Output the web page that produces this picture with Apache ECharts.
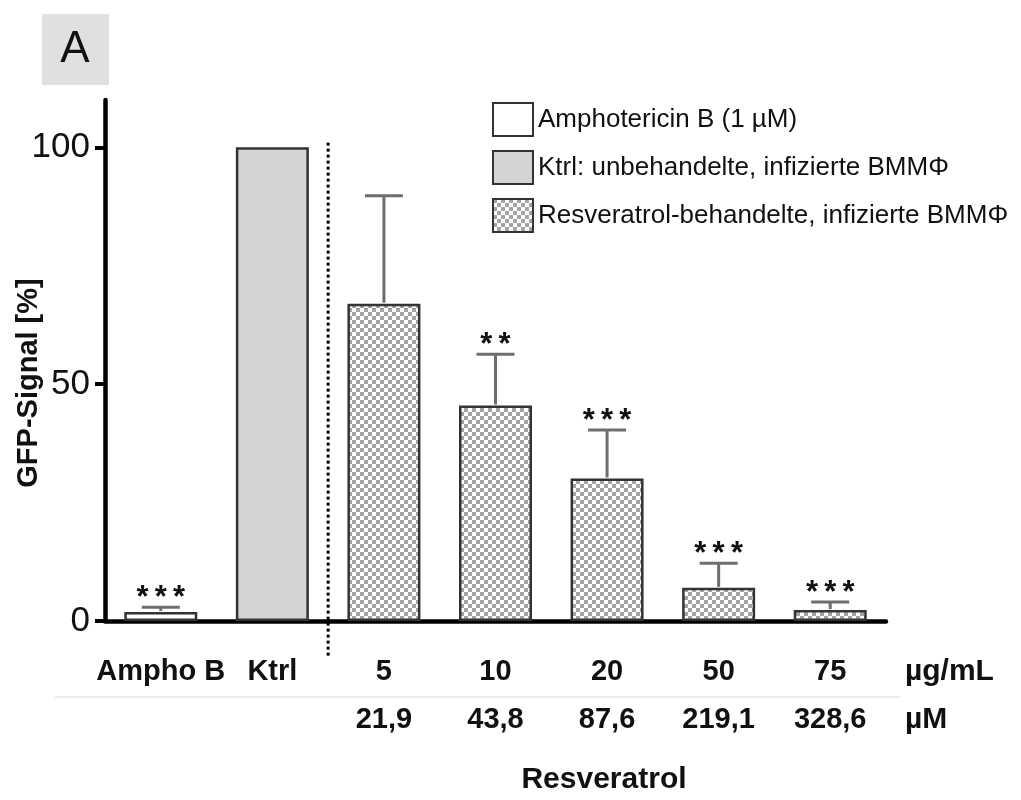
<!DOCTYPE html>
<html>
<head>
<meta charset="utf-8">
<script src="https://cdn.jsdelivr.net/npm/echarts@6/dist/echarts.min.js"></script>
<style>
  html, body { margin: 0; padding: 0; background: #fff; }
  #chart { width: 1021px; height: 800px; }
</style>
</head>
<body>
<div id="chart"></div>
<script>
// Daten
var categories = ['Ampho B', 'Ktrl', '5', '10', '20', '50', '75'];
var concMicroMolar = ['', '', '21,9', '43,8', '87,6', '219,1', '328,6'];
var groups = ['ampho', 'ktrl', 'resv', 'resv', 'resv', 'resv', 'resv'];
var meanValues = [1.9, 100, 67.0, 45.5, 30.1, 7.0, 2.3];
var errValues = [1.0, 0, 22.8, 10.8, 10.2, 5.2, 1.7];
var sigLabels = ['***', '', '', '**', '***', '***', '***'];
var yTicks = [0, 50, 100];

var FONT = 'Liberation Sans, Arial, sans-serif';

function onlyGroup(g) {
  return meanValues.map(function (v, i) { return groups[i] === g ? v : '-'; });
}

// Schachbrettmuster fuer Resveratrol
var patternCanvas = document.createElement('canvas');
patternCanvas.width = 8;
patternCanvas.height = 8;
var pctx = patternCanvas.getContext('2d');
pctx.fillStyle = '#ffffff';
pctx.fillRect(0, 0, 8, 8);
pctx.fillStyle = '#a4a4a4';
pctx.fillRect(0, 0, 4, 4);
pctx.fillRect(4, 4, 4, 4);

var myChart = echarts.init(document.getElementById('chart'));

var barBorder = { borderColor: '#333', borderWidth: 2.5 };

var option = {
  animation: false,
  backgroundColor: '#fff',
  grid: { left: 105, right: 135, top: 100, bottom: 179, outerBoundsMode: 'none' },
  legend: {
    orient: 'vertical',
    left: 487,
    top: 97,
    itemWidth: 40,
    itemHeight: 33,
    itemGap: 13,
    icon: 'rect',
    itemStyle: { borderColor: '#333', borderWidth: 2 },
    textStyle: { fontSize: 26, color: '#111', fontFamily: FONT },
    data: ['Amphotericin B (1 µM)', 'Ktrl: unbehandelte, infizierte BMMΦ', 'Resveratrol-behandelte, infizierte BMMΦ']
  },
  xAxis: [
    {
      type: 'category',
      data: categories,
      axisLine: { lineStyle: { color: '#000', width: 4.5 } },
      axisTick: { alignWithLabel: true, interval: 0, length: 10, lineStyle: { color: '#000', width: 4 } },
      axisLabel: { interval: 0, fontSize: 29, fontWeight: 'bold', color: '#111', margin: 36, fontFamily: FONT }
    },
    {
      type: 'category',
      data: categories,
      position: 'bottom',
      axisLine: { show: false },
      axisTick: { show: false },
      axisLabel: {
        interval: 0, fontSize: 29, fontWeight: 'bold', color: '#111', margin: 84, fontFamily: FONT,
        formatter: function (v, i) { return concMicroMolar[i]; }
      }
    }
  ],
  yAxis: {
    type: 'value',
    min: 0,
    max: 110,
    name: 'GFP-Signal [%]',
    nameLocation: 'middle',
    nameGap: 62,
    nameMoveOverlap: false,
    nameTextStyle: { fontSize: 29, fontWeight: 'bold', color: '#111', fontFamily: FONT, padding: [0, 45, 0, 0] },
    splitLine: { show: false },
    axisLine: { show: true, lineStyle: { color: '#000', width: 4.5 } },
    axisTick: { show: true, length: 10, customValues: yTicks, lineStyle: { color: '#000', width: 4 } },
    axisLabel: { fontSize: 35, color: '#111', margin: 15, fontFamily: FONT, customValues: yTicks }
  },
  series: [
    {
      name: 'Amphotericin B (1 µM)',
      type: 'bar',
      barWidth: 73,
      barGap: '-100%',
      itemStyle: Object.assign({ color: '#ffffff' }, barBorder),
      data: onlyGroup('ampho')
    },
    {
      name: 'Ktrl: unbehandelte, infizierte BMMΦ',
      type: 'bar',
      barWidth: 73,
      barGap: '-100%',
      itemStyle: Object.assign({ color: '#d4d4d4' }, barBorder),
      data: onlyGroup('ktrl')
    },
    {
      name: 'Resveratrol-behandelte, infizierte BMMΦ',
      type: 'bar',
      barWidth: 73,
      barGap: '-100%',
      itemStyle: Object.assign({ color: { image: patternCanvas, repeat: 'repeat' } }, barBorder),
      data: onlyGroup('resv')
    },
    {
      // Fehlerbalken + Signifikanzsterne
      type: 'custom',
      z: 5,
      data: meanValues.map(function (v, i) { return [i, v, errValues[i]]; }),
      renderItem: function (params, api) {
        var idx = api.value(0);
        var mean = api.value(1);
        var err = api.value(2);
        var base = api.coord([idx, mean]);
        var top = api.coord([idx, mean + err]);
        var half = 19;
        var stroke = { stroke: '#6e6e6e', lineWidth: 3 };
        var children = [];
        if (err > 0) {
          children.push({ type: 'line', shape: { x1: base[0], y1: base[1] - 1, x2: top[0], y2: top[1] }, style: stroke });
          children.push({ type: 'line', shape: { x1: top[0] - half, y1: top[1], x2: top[0] + half, y2: top[1] }, style: stroke });
        }
        var sig = sigLabels[params.dataIndex];
        if (sig) {
          children.push({
            type: 'text',
            x: top[0],
            y: top[1] - 9,
            style: {
              text: sig.split('').join('\u2009'),
              fill: '#111',
              font: 'bold 31px ' + FONT,
              textAlign: 'center',
              textVerticalAlign: 'middle'
            }
          });
        }
        return { type: 'group', children: children };
      }
    }
  ]
};

myChart.setOption(option);

// Trennlinie zwischen Kontrollen und Resveratrol, Beschriftungen
var xa = myChart.convertToPixel({ xAxisIndex: 0 }, 1);
var xb = myChart.convertToPixel({ xAxisIndex: 0 }, 2);
var sepX = (xa + xb) / 2;
var yTop = myChart.convertToPixel({ yAxisIndex: 0 }, 101);
var yZero = myChart.convertToPixel({ yAxisIndex: 0 }, 0);

myChart.setOption({
  graphic: [
    { type: 'rect', left: 42, top: 14, shape: { width: 67, height: 71 }, style: { fill: '#e0e0e0' } },
    { type: 'text', x: 75, y: 50, style: { text: 'A', font: '44px ' + FONT, fill: '#111', textAlign: 'center', textVerticalAlign: 'middle' } },
    { type: 'line', shape: { x1: sepX, y1: yTop, x2: sepX, y2: yZero + 36 }, style: { stroke: '#000', lineWidth: 3, lineDash: [3, 3] } },
    { type: 'line', shape: { x1: 55, y1: 697, x2: 900, y2: 697 }, style: { stroke: '#ececec', lineWidth: 2 } },
    { type: 'text', x: 905, y: 672, style: { text: 'µg/mL', font: 'bold 30px ' + FONT, fill: '#111', textAlign: 'left', textVerticalAlign: 'middle' } },
    { type: 'text', x: 905, y: 720, style: { text: 'µM', font: 'bold 30px ' + FONT, fill: '#111', textAlign: 'left', textVerticalAlign: 'middle' } },
    { type: 'text', x: 604, y: 780, style: { text: 'Resveratrol', font: 'bold 30px ' + FONT, fill: '#111', textAlign: 'center', textVerticalAlign: 'middle' } }
  ]
});
</script>
</body>
</html>
